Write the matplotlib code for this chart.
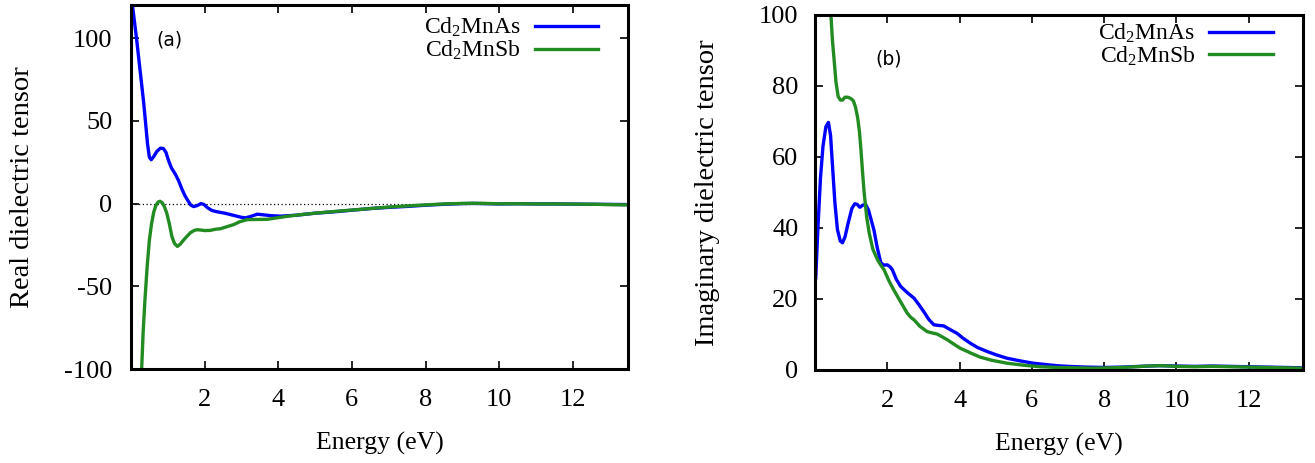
import matplotlib
matplotlib.use("Agg")
import matplotlib.pyplot as plt

plt.rcParams['font.family'] = ['Liberation Serif', 'DejaVu Serif']
plt.rcParams['mathtext.fontset'] = 'custom'
plt.rcParams['mathtext.rm'] = 'Liberation Serif'
plt.rcParams['mathtext.it'] = 'Liberation Serif:italic'
plt.rcParams['axes.unicode_minus'] = False

labels = ['Cd$_2$MnAs', 'Cd$_2$MnSb']
colors = ['#0000ff', '#228b22']

# Panel (a): real part
re_as_E = [0.00, 0.05, 0.15, 0.25, 0.34, 0.40, 0.45, 0.50, 0.55, 0.62, 0.70, 0.80, 0.88, 0.95,
           1.02, 1.10, 1.20, 1.29, 1.38, 1.46, 1.54, 1.62, 1.70, 1.80, 1.90, 1.98, 2.08, 2.20,
           2.35, 2.55, 2.80, 3.00, 3.11, 3.25, 3.43, 3.60, 3.80, 4.06, 4.5, 5.0, 5.5, 6.0, 6.5,
           7.0, 7.5, 8.0, 8.5, 9.0, 9.3, 9.6, 10.0, 10.5, 11.0, 11.5, 12.0, 12.5, 13.0, 13.5]
re_as_V = [135, 118, 100, 80, 62, 48, 36, 28, 26.5, 28.5, 31.5, 33.5, 33.3, 31,
           26, 21.5, 18, 14, 9, 5, 2, -0.8, -1.8, -1.2, 0, -0.5, -2.5, -4.2,
           -5, -5.8, -7.2, -8.3, -8.6, -7.8, -6.4, -6.8, -7.3, -7.6, -7, -5.8, -5, -4, -3,
           -2.3, -1.7, -1.0, -0.4, 0.0, 0.1, 0.0, -0.2, -0.1, -0.2, -0.2, -0.3, -0.4, -0.5, -0.6]

re_sb_E = [0.20, 0.25, 0.29, 0.33, 0.38, 0.44, 0.50, 0.56, 0.62, 0.68, 0.74, 0.79, 0.85, 0.91,
           0.97, 1.04, 1.11, 1.18, 1.26, 1.34, 1.43, 1.52, 1.62, 1.72, 1.79, 1.90, 2.00, 2.15,
           2.30, 2.43, 2.60, 2.79, 2.95, 3.15, 3.40, 3.70, 4.00, 4.30, 4.61, 5.0, 5.5, 6.0, 6.5,
           7.0, 7.5, 8.0, 8.5, 9.0, 9.3, 9.6, 10.0, 10.5, 11.0, 11.5, 12.0, 12.5, 13.0, 13.5]
re_sb_V = [-160, -125, -100, -78, -58, -38, -22, -12, -5, -1, 1, 1.4, 0.5, -2,
           -5.6, -12, -19.8, -24, -25.9, -24.5, -22, -19.8, -17.5, -16.2, -15.8, -16, -16.3, -16.2,
           -15.5, -15.2, -14, -12.7, -11, -9.7, -9.6, -9.5, -8.5, -7.5, -6.7, -5.8, -4.8, -3.9, -3,
           -2.1, -1.4, -0.8, -0.2, 0.1, 0.2, 0.1, -0.1, -0.1, -0.2, -0.2, -0.3, -0.4, -0.6, -0.8]

# Panel (b): imaginary part
im_as_E = [0.02, 0.08, 0.15, 0.22, 0.30, 0.37, 0.43, 0.48, 0.55, 0.62, 0.70, 0.76, 0.83, 0.92,
           1.02, 1.10, 1.17, 1.24, 1.32, 1.40, 1.48, 1.56, 1.63, 1.72, 1.82, 1.90, 2.00, 2.08,
           2.14, 2.25, 2.37, 2.55, 2.74, 2.88, 3.01, 3.15, 3.29, 3.45, 3.56, 3.75, 3.93, 4.10,
           4.30, 4.5, 4.76, 5.0, 5.31, 5.7, 6.04, 6.4, 6.69, 7.0, 7.5, 8.0, 8.5, 9.0, 9.5, 10.0,
           10.5, 11.0, 11.5, 12.0, 12.5, 13.0, 13.5]
im_as_V = [26, 40, 54, 63, 68.5, 69.7, 66, 58, 47, 39.5, 36.3, 35.8, 37.5, 41.5,
           45.5, 46.8, 46.6, 45.8, 46.4, 46.6, 45, 42, 39.4, 34.5, 30.2, 29.5, 29.6, 29,
           28.2, 25.5, 23.5, 21.8, 20.2, 18.3, 16.4, 14.2, 12.7, 12.5, 12.4, 11.3, 10.3, 8.9,
           7.5, 6.3, 5.2, 4.3, 3.3, 2.5, 1.9, 1.5, 1.2, 1.0, 0.8, 0.7, 0.8, 1.0, 1.2, 1.1,
           1.0, 1.1, 1.0, 0.9, 0.8, 0.7, 0.6]

im_sb_E = [0.05, 0.15, 0.25, 0.35, 0.44, 0.48, 0.53, 0.58, 0.64, 0.70, 0.76, 0.83, 0.90, 0.98,
           1.06, 1.12, 1.18, 1.23, 1.27, 1.32, 1.36, 1.43, 1.50, 1.60, 1.73, 1.82, 1.91, 2.05,
           2.18, 2.35, 2.55, 2.65, 2.74, 2.90, 3.10, 3.25, 3.38, 3.52, 3.66, 3.85, 4.02, 4.3,
           4.57, 4.9, 5.31, 5.8, 6.23, 6.7, 7.2, 7.7, 8.2, 8.7, 9.2, 9.6, 10.0, 10.5, 11.0,
           11.5, 12.0, 12.5, 13.0, 13.5]
im_sb_V = [260, 200, 155, 118, 100, 93, 87, 81, 77, 76, 76, 76.8, 76.8, 76.5,
           75.8, 74, 71, 67, 62, 55, 49.8, 43, 38.5, 34, 31, 29.5, 28.2, 25,
           22.5, 19.5, 16, 14.8, 14.1, 12.3, 10.8, 10.4, 10.1, 9.3, 8.5, 7.2, 6.1, 4.8,
           3.6, 2.7, 1.9, 1.3, 0.9, 0.7, 0.6, 0.5, 0.6, 0.8, 1.1, 1.2, 1.0, 0.9, 1.0,
           0.9, 0.8, 0.7, 0.6, 0.5]

x_ticks = [2, 4, 6, 8, 10, 12]
ya_ticks = [-100, -50, 0, 50, 100]
yb_ticks = [0, 20, 40, 60, 80, 100]

fig = plt.figure(figsize=(13.15, 4.63), dpi=100)
axa = fig.add_axes([0.0996, 0.203, 0.378, 0.786])
axb = fig.add_axes([0.6198, 0.201, 0.371, 0.767])

TFS = 19
for ax in (axa, axb):
    for s in ax.spines.values():
        s.set_linewidth(2.2)
    ax.tick_params(direction='in', length=6, width=1.2, top=True, right=True,
                   labelsize=TFS)
    ax.tick_params(axis='x', pad=14.5)
    ax.set_xticks(x_ticks)
    ax.set_xlim(0, 13.5)
    ax.set_xlabel('Energy (eV)', fontsize=18.5, labelpad=15)
axa.tick_params(axis='y', pad=13.5)
axb.tick_params(axis='y', pad=12)

axa.axhline(0, color='black', lw=0.9, ls=(0, (1, 2)), zorder=1)
axa.plot(re_as_E, re_as_V, color=colors[0], lw=2.4, label=labels[0])
axa.plot(re_sb_E, re_sb_V, color=colors[1], lw=2.4, label=labels[1])
axa.set_ylim(-100, 120)
axa.set_yticks(ya_ticks)
axa.set_ylabel('Real dielectric tensor', fontsize=20.5, labelpad=21)
axa.text(0.052, 0.904, '(a)', transform=axa.transAxes, family='DejaVu Sans', fontsize=13.5,
         va='center', ha='left')

axb.plot(im_as_E, im_as_V, color=colors[0], lw=2.4, label=labels[0])
axb.plot(im_sb_E, im_sb_V, color=colors[1], lw=2.4, label=labels[1])
axb.set_ylim(0, 100)
axb.set_yticks(yb_ticks)
axb.set_ylabel('Imaginary dielectric tensor', fontsize=20.5, labelpad=28)
axb.text(0.123, 0.875, '(b)', transform=axb.transAxes, family='DejaVu Sans', fontsize=13.5,
         va='center', ha='left')

for ax, anchor in ((axa, (0.9396, 0.970)), (axb, (0.9385, 0.980))):
    ax.legend(loc='upper right', bbox_to_anchor=anchor, frameon=False, markerfirst=False,
              fontsize=17, handlelength=2.69, handletextpad=0.6, labelspacing=-0.02,
              borderaxespad=0.0, borderpad=0.0)

fig.savefig('out.png', dpi=100)
